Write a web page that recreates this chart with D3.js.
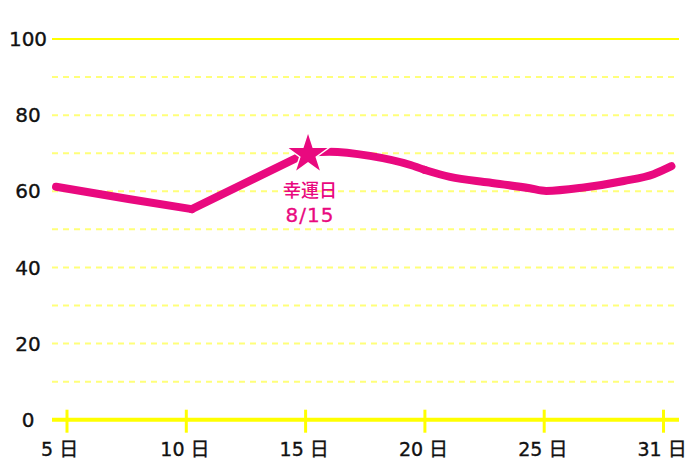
<!DOCTYPE html>
<html lang="ja">
<head>
<meta charset="UTF-8">
<title>幸運日</title>
<style>
  body { margin: 0; background: #FFFFFF; }
  svg { display: block; font-family: "DejaVu Sans", "Noto Sans CJK JP", sans-serif; }
  .lbl { stroke: #111; stroke-width: 0.35px; }
</style>
</head>
<body>
<div id="chart"></div>
<script src="https://d3js.org/d3.v7.min.js"></script>
<script>
    // tick labels
    const tickDays = [5, 10, 15, 20, 25, 31];
    const tickLabels = ["5 日", "10 日", "15 日", "20 日", "25 日", "31 日"];
    const yTicks = [0, 20, 40, 60, 80, 100];
    const gridValues = [10, 20, 30, 40, 50, 60, 70, 80, 90];

    // series
    const days   = [4.54, 7.64, 10.23, 15.06, 16.0, 17.7, 19.4, 20.0, 21.05, 22.7, 24.4, 25.1, 27.0, 29.0, 30.5, 31.4];
    const values = [61.2, 57.9, 55.3, 70.1, 70.4, 69.3, 66.9, 65.6, 63.8, 62.3, 60.8, 60.1, 61.0, 62.7, 64.5, 66.6];
    // indexes where the line has a corner
    const corners = [0, 2, 3, 7, 15];

    const luckyDay = 15.06;
    const luckyValue = 70.1;

    const width = 700, height = 467;
    const plotLeft = 52, plotRight = 679, plotTop = 39, plotBottom = 419.7;
    const pink = "#e9097f";
    const yellow = "#ffff00";

    const svg = d3.select("#chart").append("svg")
        .attr("width", width)
        .attr("height", height);

    const y = d3.scaleLinear().domain([0, 100]).range([plotBottom, plotTop]);

    // evenly spaced day ticks, then a piecewise scale through them
    const xPoint = d3.scalePoint().domain(tickDays).range([67, 663.5]);
    const x = d3.scaleLinear().domain(tickDays).range(tickDays.map(d => xPoint(d)));

    // dashed grid
    svg.append("g").selectAll("line")
        .data(gridValues)
        .join("line")
        .attr("x1", plotLeft).attr("x2", plotRight)
        .attr("y1", d => y(d)).attr("y2", d => y(d))
        .attr("stroke", "#ffff7a")
        .attr("stroke-width", 2)
        .attr("stroke-dasharray", "6,5");

    // top line
    svg.append("line")
        .attr("x1", plotLeft).attr("x2", plotRight)
        .attr("y1", y(100)).attr("y2", y(100))
        .attr("stroke", yellow).attr("stroke-width", 2);

    // x axis line + ticks
    svg.append("line")
        .attr("x1", plotLeft).attr("x2", plotRight)
        .attr("y1", y(0)).attr("y2", y(0))
        .attr("stroke", yellow).attr("stroke-width", 4);

    svg.append("g").selectAll("line")
        .data(tickDays)
        .join("line")
        .attr("x1", d => x(d)).attr("x2", d => x(d))
        .attr("y1", y(0) - 10).attr("y2", y(0) + 13)
        .attr("stroke", yellow).attr("stroke-width", 3);

    // y labels
    svg.append("g").selectAll("text")
        .data(yTicks)
        .join("text")
        .attr("class", "lbl")
        .attr("x", 28)
        .attr("y", d => y(d))
        .attr("dy", "0.36em")
        .attr("text-anchor", "middle")
        .attr("font-size", "20px")
        .attr("fill", "#111")
        .text(d => d);

    // x labels
    svg.append("g").selectAll("text")
        .data(tickDays)
        .join("text")
        .attr("class", "lbl")
        .attr("x", d => x(d) - 26)
        .attr("y", 456)
        .attr("font-size", "19px")
        .attr("fill", "#111")
        .text((d, i) => tickLabels[i]);

    // line, drawn piece by piece so the corners stay sharp
    const line = d3.line()
        .x(i => x(days[i]))
        .y(i => y(values[i]))
        .curve(d3.curveMonotoneX);

    const pieces = d3.pairs(corners).map(([a, b]) => d3.range(a, b + 1));

    svg.append("g").selectAll("path")
        .data(pieces)
        .join("path")
        .attr("d", line)
        .attr("fill", "none")
        .attr("stroke", pink)
        .attr("stroke-width", 8)
        .attr("stroke-linecap", "round")
        .attr("stroke-linejoin", "round");

    // star marker
    const star = d3.symbol().type(d3.symbolStar).size(580);
    svg.append("path")
        .attr("d", star())
        .attr("transform", `translate(${x(luckyDay) + 1},${y(luckyValue) + 1.5})`)
        .attr("fill", pink)
        .attr("stroke", "#fff")
        .attr("stroke-width", 1.5);

    svg.append("text")
        .attr("x", x(luckyDay) + 3)
        .attr("y", 197)
        .attr("text-anchor", "middle")
        .attr("font-size", "18px")
        .attr("font-family", "Noto Sans CJK JP")
        .attr("font-weight", 500)
        .attr("fill", pink)
        .text("幸運日");

    svg.append("text")
        .attr("x", x(luckyDay) + 3)
        .attr("y", 222)
        .attr("text-anchor", "middle")
        .attr("font-size", "20px")
        .attr("letter-spacing", "1px")
        .attr("stroke", pink)
        .attr("stroke-width", 0.3)
        .attr("fill", pink)
        .text("8/15");
</script>
</body>
</html>
